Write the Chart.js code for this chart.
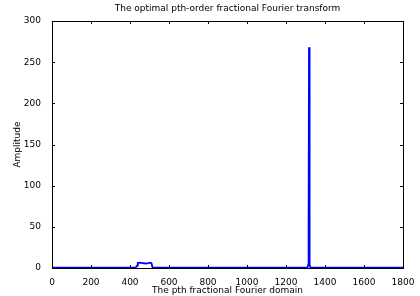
<!DOCTYPE html>
<html>
<head>
<meta charset="utf-8">
<script src="https://cdn.jsdelivr.net/npm/chart.js@4/dist/chart.umd.min.js"></script>
<style>
  body { margin: 0; background: #fff; }
  #wrap { width: 420px; height: 296px; }
</style>
</head>
<body>
<div id="wrap"><canvas id="myChart" width="420" height="296"></canvas></div>
<script>
// domain samples (x) and amplitude (y)
var domainX = [0, 200, 430, 436, 440, 450, 465, 480, 495, 505, 510, 516, 600, 1000, 1310, 1314, 1316, 1318, 1320, 1322, 1326, 1500, 1800];
var amplitude = [0.4, 0.4, 0.4, 3, 6, 6.5, 6, 5.5, 6, 6.5, 6, 0.4, 0.4, 0.4, 0.4, 4, 60, 268, 40, 4, 0.4, 0.4, 0.4];
var xTicks = [0, 200, 400, 600, 800, 1000, 1200, 1400, 1600, 1800];
var yTicks = [0, 50, 100, 150, 200, 250, 300];
var chartTitle = 'The optimal pth-order fractional Fourier transform';

var points = [];
for (var i = 0; i < domainX.length; i++) {
    points.push({ x: domainX[i], y: amplitude[i] });
}

var fnt = { family: 'DejaVu Sans, sans-serif', size: 9 };
var tickFnt = { family: 'DejaVu Sans, sans-serif', size: 9 };

// matlab style box with inward ticks, title centred over the axes
var boxPlugin = {
    id: 'box',
    afterDraw: function (chart) {
        var c = chart.ctx, a = chart.chartArea;
        var xs = chart.scales.x, ys = chart.scales.y;
        c.save();
        c.strokeStyle = '#000';
        c.lineWidth = 1;
        c.strokeRect(Math.round(a.left) + 0.5, Math.round(a.top) + 0.5, Math.round(a.right - a.left), Math.round(a.bottom - a.top));
        c.beginPath();
        xTicks.forEach(function (v) {
            var px = Math.round(xs.getPixelForValue(v)) + 0.5;
            c.moveTo(px, a.bottom); c.lineTo(px, a.bottom - 3);
            c.moveTo(px, a.top); c.lineTo(px, a.top + 3);
        });
        yTicks.forEach(function (v) {
            var py = Math.round(ys.getPixelForValue(v)) + 0.5;
            c.moveTo(a.left, py); c.lineTo(a.left + 3, py);
            c.moveTo(a.right, py); c.lineTo(a.right - 3, py);
        });
        c.stroke();
        c.fillStyle = '#000';
        c.font = '9px DejaVu Sans, sans-serif';
        c.textAlign = 'center';
        c.textBaseline = 'middle';
        c.fillText(chartTitle, (a.left + a.right) / 2, 9);
        c.restore();
    }
};

var ctx = document.getElementById('myChart');
var myChart = new Chart(ctx, {
    type: 'line',
    data: {
        datasets: [{
            data: points,
            borderColor: 'rgb(0,0,255)',
            borderWidth: 1.8,
            pointRadius: 0,
            tension: 0
        }]
    },
    options: {
        responsive: false,
        animation: false,
        layout: { padding: { left: 0, right: 17, top: 21, bottom: 0 } },
        plugins: {
            legend: { display: false },
            tooltip: { enabled: false },
            title: { display: false }
        },
        scales: {
            x: {
                type: 'linear',
                min: 0,
                max: 1800,
                afterBuildTicks: function (s) { s.ticks = xTicks.map(function (v) { return { value: v }; }); },
                afterFit: function (s) { s.height = 28; },
                grid: { display: false },
                border: { display: false },
                ticks: { color: '#000', font: tickFnt, padding: 1, maxRotation: 0, callback: function (v) { return String(v); } },
                title: { display: true, text: 'The pth fractional Fourier domain', color: '#000', font: fnt, padding: 0 }
            },
            y: {
                min: 0,
                max: 300,
                afterBuildTicks: function (s) { s.ticks = yTicks.map(function (v) { return { value: v }; }); },
                afterFit: function (s) { s.width = 52; },
                grid: { display: false },
                border: { display: false },
                ticks: { color: '#000', font: tickFnt, padding: 3, callback: function (v) { return String(v); } },
                title: { display: true, text: 'Amplitude', color: '#000', font: fnt, padding: { top: 12, bottom: 0 } }
            }
        }
    },
    plugins: [boxPlugin]
});
</script>
</body>
</html>
